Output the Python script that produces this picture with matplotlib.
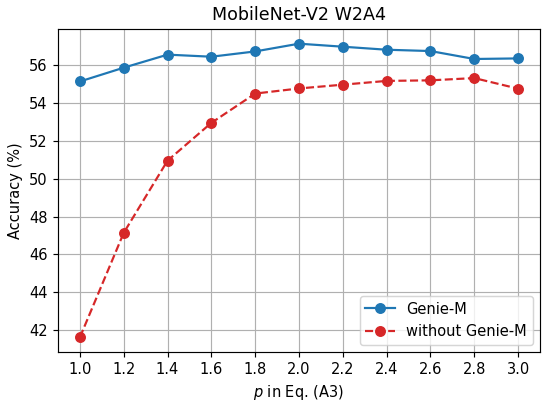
import numpy as np
import matplotlib
matplotlib.use('Agg')
import matplotlib.pyplot as plt

p_values = [1.0, 1.2, 1.4, 1.6, 1.8, 2.0, 2.2, 2.4, 2.6, 2.8, 3.0]
genie_m = [55.15, 55.88, 56.57, 56.46, 56.74, 57.15, 56.99, 56.83, 56.76, 56.34, 56.37]
without_genie_m = [41.61, 47.14, 50.96, 52.96, 54.51, 54.78, 54.98, 55.18, 55.21, 55.33, 54.77]

# original seems rendered ~5% larger than 100 dpi
dpi = 105
fig, ax = plt.subplots(figsize=(543/dpi, 404/dpi), dpi=dpi)
ax.plot(p_values, genie_m, c='tab:blue', marker='o', markersize=6.5, label='Genie-M')
ax.plot(p_values, without_genie_m, c='tab:red', marker='o', markersize=6.5,
        linestyle='--', label='without Genie-M')
ax.set_xticks(p_values)
ax.set_xticklabels(['%.1f' % v for v in p_values])
ax.set_xlabel('$p$ in Eq. (A3)')
ax.set_ylabel('Accuracy (%)')
ax.set_title('MobileNet-V2 W2A4')
ax.grid(True)
ax.legend(loc=4)
plt.subplots_adjust(left=58/543, right=540/543, top=1-29/404, bottom=1-352/404)
plt.savefig('out.png', dpi=dpi)
